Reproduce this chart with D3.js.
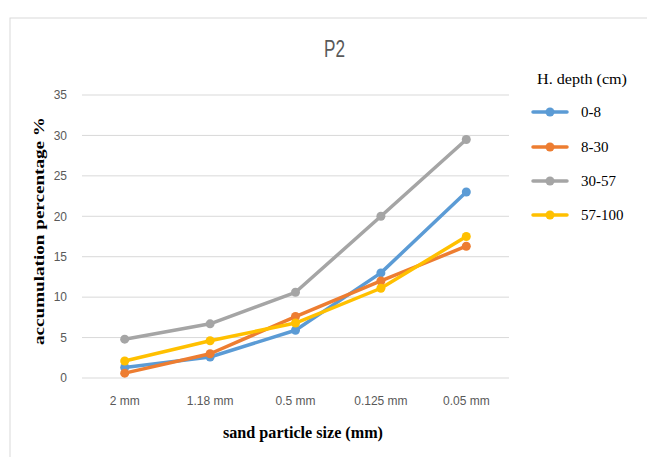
<!DOCTYPE html>
<html><head><meta charset="utf-8">
<script src="https://cdn.jsdelivr.net/npm/d3@7/dist/d3.min.js"></script>
<style>body{margin:0;background:#fff;}svg{display:block;}</style>
</head><body>
<svg id="chart" width="647" height="457"></svg>
<script>
const categories = ["2 mm", "1.18 mm", "0.5 mm", "0.125 mm", "0.05 mm"];
const seriesNames = ["0-8", "8-30", "30-57", "57-100"];
const s0_8 = [1.3, 2.6, 5.9, 13.0, 23.0];
const s8_30 = [0.6, 3.0, 7.6, 12.0, 16.3];
const s30_57 = [4.8, 6.7, 10.6, 20.0, 29.5];
const s57_100 = [2.1, 4.6, 6.8, 11.1, 17.5];
const yTicks = [0, 5, 10, 15, 20, 25, 30, 35];
const colors = ["#5B9BD5", "#ED7D31", "#A5A5A5", "#FFC000"];
const seriesValues = [s0_8, s8_30, s30_57, s57_100];

const svg = d3.select("#chart");
// chart frame
svg.append("rect").attr("x", 10).attr("y", 18).attr("width", 700).attr("height", 500)
  .attr("fill", "#fff").attr("stroke", "#D9D9D9").attr("stroke-width", 1);

const x = d3.scaleBand().domain(categories).range([82, 509]);
const y = d3.scaleLinear().domain([0, 35]).range([378, 95]);

// gridlines
svg.append("g").selectAll("line").data(yTicks).join("line")
  .attr("x1", 82).attr("x2", 509)
  .attr("y1", d => y(d)).attr("y2", d => y(d))
  .attr("stroke", "#D9D9D9").attr("stroke-width", 1);

// y axis labels
const yAxis = d3.axisLeft(y).tickValues(yTicks).tickSize(0).tickPadding(0);
const gy = svg.append("g").attr("transform", "translate(67,0)").call(yAxis);
gy.select(".domain").remove();
gy.selectAll("text").attr("font-family", "Liberation Sans Narrow, Liberation Sans, sans-serif")
  .attr("font-size", 12).attr("fill", "#595959");

// x axis labels
const xAxis = d3.axisBottom(x).tickSize(0).tickPadding(0);
const gx = svg.append("g").attr("transform", "translate(0,396)").call(xAxis);
gx.select(".domain").remove();
gx.selectAll("text").attr("font-family", "Liberation Sans Narrow, Liberation Sans, sans-serif")
  .attr("font-size", 12).attr("fill", "#595959");

// lines
const line = d3.line().x((d, i) => x(categories[i]) + x.bandwidth() / 2).y(d => y(d));
seriesValues.forEach((vals, k) => {
  svg.append("path").datum(vals).attr("d", line).attr("fill", "none")
    .attr("stroke", colors[k]).attr("stroke-width", 3.5).attr("stroke-linejoin", "round").attr("stroke-linecap", "round");
  svg.append("g").selectAll("circle").data(vals).join("circle")
    .attr("cx", (d, i) => x(categories[i]) + x.bandwidth() / 2).attr("cy", d => y(d))
    .attr("r", 4.5).attr("fill", colors[k]);
});

// title
svg.append("text").attr("x", 334.5).attr("y", 57).attr("text-anchor", "middle")
  .attr("font-family", "Liberation Sans Narrow, Liberation Sans, sans-serif").attr("font-size", 23)
  .attr("textLength", 21).attr("lengthAdjust", "spacingAndGlyphs")
  .attr("fill", "#595959").text("P2");

// axis titles
svg.append("text").attr("x", 303).attr("y", 438).attr("text-anchor", "middle")
  .attr("font-family", "Liberation Serif, serif").attr("font-weight", "bold").attr("font-size", 16)
  .attr("textLength", 160).attr("lengthAdjust", "spacingAndGlyphs")
  .attr("fill", "#000").text("sand particle size (mm)");
svg.append("text").attr("transform", "translate(44,231) rotate(-90)").attr("text-anchor", "middle")
  .attr("font-family", "Liberation Serif, serif").attr("font-weight", "bold").attr("font-size", 15)
  .attr("textLength", 228).attr("lengthAdjust", "spacingAndGlyphs")
  .attr("fill", "#000").text("accumulation percentage %");

// legend
svg.append("text").attr("x", 537).attr("y", 84)
  .attr("font-family", "Liberation Serif, serif").attr("font-size", 15).attr("fill", "#000")
  .attr("textLength", 90).attr("lengthAdjust", "spacingAndGlyphs")
  .text("H. depth (cm)");
const legY = [112, 147, 181, 215];
seriesNames.forEach((n, k) => {
  const g = svg.append("g");
  g.append("line").attr("x1", 533).attr("x2", 567).attr("y1", legY[k]).attr("y2", legY[k])
    .attr("stroke", colors[k]).attr("stroke-width", 3.5).attr("stroke-linecap", "round");
  g.append("circle").attr("cx", 550).attr("cy", legY[k]).attr("r", 4.5).attr("fill", colors[k]);
  g.append("text").attr("x", 581).attr("y", legY[k] + 5)
    .attr("font-family", "Liberation Serif, serif").attr("font-size", 15).attr("fill", "#000").text(n);
});
</script>
</body></html>
